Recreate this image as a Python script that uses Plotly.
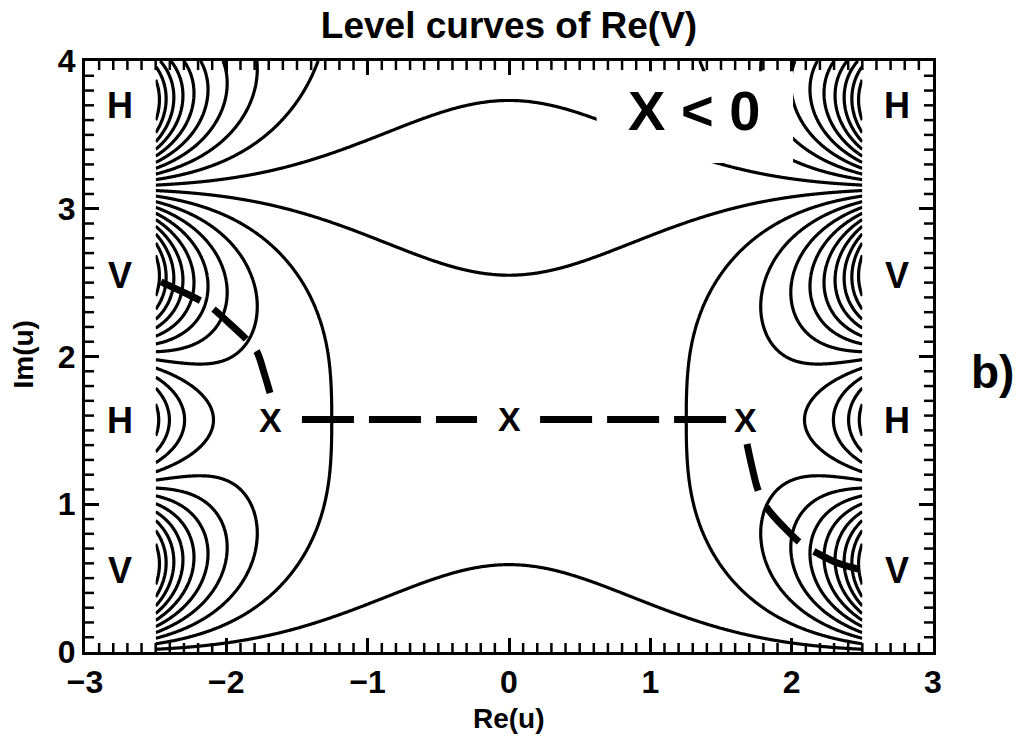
import numpy as np
import plotly.graph_objects as go

# ---- potential: Re V(u) = -(A cosh x sin y + cosh(3x) sin(3y)),  u = x + i y
A_FIRST = 110.0          # weight of the first harmonic
HARMONIC = 3             # order of the fast harmonic
LEVEL_STEP = 124.6       # spacing between drawn level values
LEVEL_HALF_COUNT = 10    # levels drawn on each side of zero, at (k + 1/2) * step

re_u = np.linspace(-2.5, 2.5, 701)
im_u = np.linspace(0.0, 4.0, 561)
XX, YY = np.meshgrid(re_u, im_u)
re_v = -(A_FIRST * np.cosh(XX) * np.sin(YY)
         + np.cosh(HARMONIC * XX) * np.sin(HARMONIC * YY))
re_v = np.round(re_v, 1)

# ---- steepest-descent path through the three saddles
path_left_x = [-1.691, -1.735, -1.783, -1.854, -1.99, -2.130, -2.236, -2.36, -2.491]
path_left_y = [1.753, 1.895, 2.030, 2.112, 2.235, 2.349, 2.403, 2.46, 2.518]
path_mid_l_x = [-1.465, -0.226]
path_mid_r_x = [0.22, 1.545]
path_mid_y = 1.573
path_right_x = [1.684, 1.72, 1.762, 1.826, 1.95, 2.08, 2.179, 2.33, 2.498]
path_right_y = [1.408, 1.25, 1.096, 0.975, 0.84, 0.724, 0.670, 0.60, 0.555]

saddle_x = [-1.691, 0.0, 1.67]
saddle_y = [1.57, 1.58, 1.57]

# ---- region labels (H = hill, V = valley)
region_text = ["H", "V", "H", "V"]
region_y = [3.70, 2.55, 1.57, 0.55]
region_x_left = -2.752
region_x_right = 2.745

X_RANGE = [-3, 3]
Y_RANGE = [0, 4]
MINOR_STEP = 0.1
MINOR_LEN_X = 0.064   # length of fine ticks on the left/right sides (x units)
MINOR_LEN_Y = 0.061   # length of fine ticks on the bottom/top sides (y units)

FONT = "Liberation Sans, Arial, Helvetica, sans-serif"

fig = go.Figure()

fig.add_trace(go.Contour(
    x=re_u, y=im_u, z=re_v,
    autocontour=False,
    contours=dict(start=-(LEVEL_HALF_COUNT - 0.5) * LEVEL_STEP,
                  end=(LEVEL_HALF_COUNT - 0.5) * LEVEL_STEP,
                  size=LEVEL_STEP, coloring="lines"),
    colorscale=[[0, "black"], [1, "black"]],
    showscale=False,
    line=dict(width=3.2, smoothing=1),
    hoverinfo="skip",
))

dash_style = dict(color="black", width=7, shape="spline")
fig.add_trace(go.Scatter(x=path_left_x, y=path_left_y, mode="lines",
                         line=dict(dash="44px,16px", **dash_style), hoverinfo="skip"))
fig.add_trace(go.Scatter(x=path_right_x, y=path_right_y, mode="lines",
                         line=dict(dash="48px,18px", **dash_style), hoverinfo="skip"))
fig.add_trace(go.Scatter(x=path_mid_l_x, y=[path_mid_y] * 2, mode="lines",
                         line=dict(color="black", width=7, dash="52px,15px"), hoverinfo="skip"))
fig.add_trace(go.Scatter(x=path_mid_r_x, y=[path_mid_y] * 2, mode="lines",
                         line=dict(color="black", width=7, dash="52px,15px"), hoverinfo="skip"))

# fine ticks along the frame, drawn as short inward segments
x_fine = [float(v) for v in np.round(np.arange(X_RANGE[0], X_RANGE[1] + 1e-9, MINOR_STEP), 1)
          if abs(v - round(v)) > 1e-6]
y_fine = [float(v) for v in np.round(np.arange(Y_RANGE[0], Y_RANGE[1] + 1e-9, MINOR_STEP), 1)
          if abs(v - round(v)) > 1e-6]
tick_x, tick_y = [], []
for xv in x_fine:
    tick_x += [xv, xv, None, xv, xv, None]
    tick_y += [Y_RANGE[0], Y_RANGE[0] + MINOR_LEN_Y, None,
               Y_RANGE[1], Y_RANGE[1] - MINOR_LEN_Y, None]
for yv in y_fine:
    tick_x += [X_RANGE[0], X_RANGE[0] + MINOR_LEN_X, None,
               X_RANGE[1], X_RANGE[1] - MINOR_LEN_X, None]
    tick_y += [yv, yv, None, yv, yv, None]
fig.add_trace(go.Scatter(x=tick_x, y=tick_y, mode="lines",
                         line=dict(color="black", width=2.5),
                         connectgaps=False, hoverinfo="skip"))

# blank panel behind the parameter label
fig.add_shape(type="rect", xref="x", yref="y", x0=0.62, x1=2.01, y0=3.31, y1=3.93,
              fillcolor="white", line=dict(width=0), layer="above")


def label(x, y, text, size, xref="x", yref="y", **kw):
    return dict(x=x, y=y, xref=xref, yref=yref, text=text, showarrow=False,
                xanchor="center", yanchor="middle",
                font=dict(family=FONT, size=size, color="black", weight="bold"), **kw)


annotations = []
for sx, sy in zip(saddle_x, saddle_y):
    annotations.append(label(sx, sy, "X", 34))
for t, ry in zip(region_text, region_y):
    for rx in (region_x_left, region_x_right):
        annotations.append(label(rx, ry, t, 36))
annotations.append(label(1.309, 3.668, "X < 0", 56))
annotations.append(label(1.0696, 0.474, "b)", 46, xref="paper", yref="paper"))
annotations.append(label(0.5, -0.1117, "Re(u)", 28, xref="paper", yref="paper"))
annotations.append(label(-0.0725, 0.5025, "Im(u)", 28, xref="paper", yref="paper",
                         textangle=-90))

axis_common = dict(
    showgrid=False, zeroline=False, showline=True, linecolor="black", linewidth=3,
    mirror="allticks", ticks="inside", ticklen=14, tickwidth=2.5, tickcolor="black",
    dtick=1,
    tickfont=dict(family=FONT, size=32, color="black", weight="bold"),
)

fig.update_layout(
    width=1026, height=746,
    margin=dict(l=85, r=93, t=61, b=94),
    paper_bgcolor="white", plot_bgcolor="white",
    showlegend=False,
    title=dict(text="Level curves of Re(V)", x=0.4961, xanchor="center",
               y=1 - 25 / 746, yanchor="middle", yref="container",
               font=dict(family=FONT, size=37, color="black", weight="bold")),
    xaxis=dict(range=X_RANGE, **axis_common),
    yaxis=dict(range=Y_RANGE, **axis_common),
    annotations=annotations,
)

fig.write_html("out.html")
